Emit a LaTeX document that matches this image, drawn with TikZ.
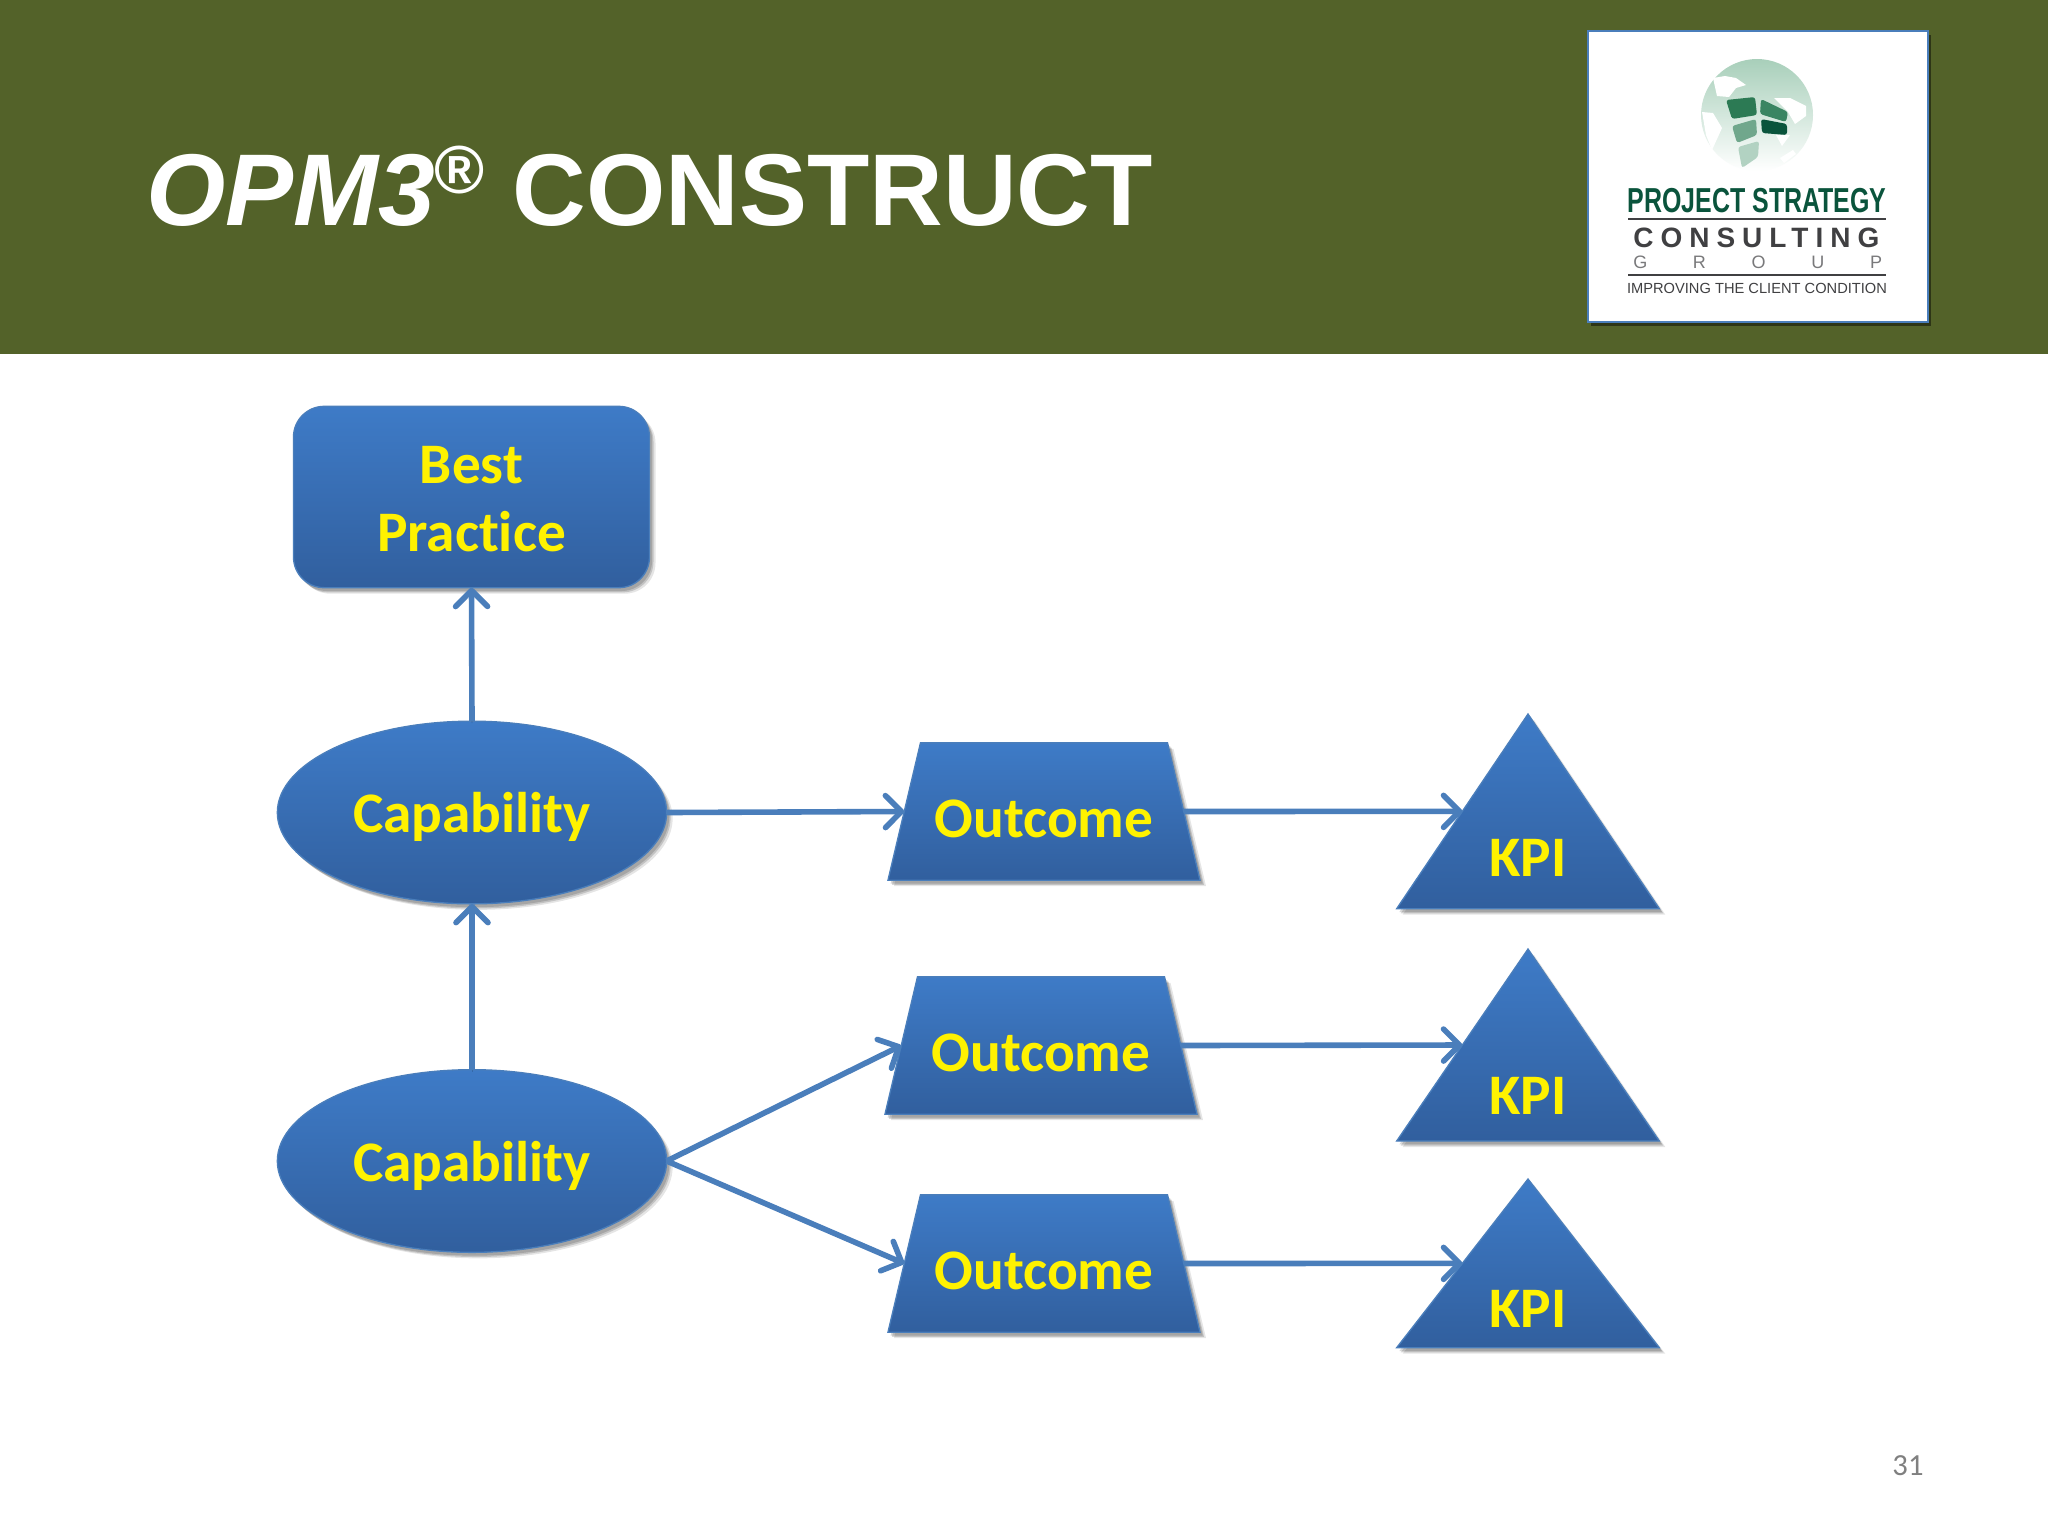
\documentclass[tikz,border=0pt]{standalone}
\usepackage{fontspec}
\setmainfont[Ligatures=NoCommon]{Carlito}
\newfontfamily\titlefont{Liberation Sans}
\newfontfamily\narrowfont[FakeStretch=.72]{Liberation Sans}
\newfontfamily\spacedfont[LetterSpace=25]{Liberation Sans}
\newfontfamily\widefont[LetterSpace=254]{Liberation Sans}
\usetikzlibrary{shapes.geometric,shadows,arrows.meta}
\definecolor{headergreen}{RGB}{83,98,41}
\definecolor{shapetop}{RGB}{62,123,199}
\definecolor{shapebottom}{RGB}{49,95,158}
\definecolor{linkblue}{RGB}{74,126,187}
\definecolor{logogreen}{RGB}{10,84,60}
\definecolor{logogrey}{RGB}{64,64,66}
\definecolor{globetop}{RGB}{168,207,186}
\definecolor{globemid}{RGB}{190,220,204}
\definecolor{tiledark}{RGB}{44,122,84}
\definecolor{tilemid}{RGB}{58,133,98}
\definecolor{tilesoft}{RGB}{112,167,140}
\definecolor{tilepale}{RGB}{178,210,194}
\tikzset{
  blueshape/.style={top color=shapetop, bottom color=shapebottom, draw=linkblue, line width=1pt, inner sep=2pt, outer sep=0pt,
    drop shadow={shadow xshift=4.5pt, shadow yshift=-4.5pt, opacity=.1, fill=black},
    drop shadow={shadow xshift=3pt, shadow yshift=-3.5pt, opacity=.15, fill=black},
    drop shadow={shadow xshift=2pt, shadow yshift=-2.5pt, opacity=.15, fill=black}},
  bestbox/.style={blueshape, rectangle, rounded corners=23pt, minimum width=267pt, minimum height=136pt},
  capability/.style={blueshape, ellipse, minimum width=292pt, minimum height=137pt},
  outcome/.style={blueshape, trapezium, trapezium stretches=true, trapezium left angle=82.5, trapezium right angle=82.5, minimum width=234pt, minimum height=103pt},
  kpi/.style={blueshape, isosceles triangle, isosceles triangle stretches=true, shape border rotate=90, anchor=apex, minimum width=197pt},
  yellowtext/.style={text=yellow, font=\fontsize{43}{51}\selectfont\bfseries, align=center, inner sep=0pt},
  link/.style={draw=linkblue, line width=4.2pt, -{Straight Barb[length=12pt,width=24pt,round]},
    preaction={draw=black, opacity=.15, transform canvas={yshift=-1.5pt}}},
  logorule/.style={draw=logogrey, line width=1pt},
  tile/.style={rounded corners=2pt}
}
\begin{document}
\begin{tikzpicture}[x=.75pt,y=-.75pt]
    \useasboundingbox (0,0) rectangle (2048,1536);
    \fill[white] (0,0) rectangle (2048,1536);
    \fill[headergreen] (0,0) rectangle (2048,354);

    \node (title) [anchor=base west, inner sep=0pt, text=white, font=\titlefont\fontsize{76.5}{90}\selectfont\bfseries] at (146,225) {\textit{OPM3}\hspace{-1pt}\raisebox{24pt}{\fontsize{51}{51}\selectfont ®} CONSTRUCT};

    \fill[white, draw=linkblue, line width=1.2pt, drop shadow={shadow xshift=2pt, shadow yshift=-3pt, opacity=.45, fill=black}] (1588,31) rectangle (1928,322);

    \shade[top color=globetop, middle color=globemid, bottom color=white] (1757,115) circle (56);
    \fill[white] (1713,78) -- (1725,76) -- (1736,78) -- (1746,85) -- (1736,88) -- (1729,97) -- (1717,96) -- cycle;
    \fill[white] (1702,112) -- (1713,113) -- (1722,128) -- (1712,150) -- (1706,135) -- cycle;
    \fill[white] (1774,98) -- (1790,98) -- (1806,106) -- (1806,116) -- (1795,124) -- (1788,112) -- cycle;
    \fill[white] (1780,158) -- (1793,150) -- (1796,154) -- (1784,163) -- cycle;
    \fill[white] (1776,135) -- (1790,135) -- (1782,146) -- cycle;
    \fill[tile, tiledark] (1726,100) -- (1755,97) -- (1757,115) -- (1732,119) -- cycle;
    \fill[tile, tilemid] (1761,99) -- (1788,112) -- (1786,122) -- (1760,114) -- cycle;
    \fill[tile, tilesoft] (1732,126) -- (1756,119) -- (1757,135) -- (1737,143) -- cycle;
    \fill[tile, logogreen] (1761,119) -- (1787,124) -- (1787,135) -- (1762,133) -- cycle;
    \fill[tile, tilepale] (1738,147) -- (1759,141) -- (1758,157) -- (1742,168) -- cycle;

    \node (psname) [anchor=base, inner sep=0pt, text=logogreen, font=\narrowfont\fontsize{26}{30}\selectfont\bfseries] at (1757,212) {PROJECT STRATEGY};
    \draw[logorule] (1628,219) -- (1886,219);
    \node (pscons) [anchor=base west, inner sep=0pt, text=logogrey, font=\spacedfont\fontsize{21}{25}\selectfont\bfseries] at (1633,247) {CONSULTING};
    \node (psgroup) [anchor=base west, inner sep=0pt, text=logogrey!70, font=\widefont\fontsize{13.5}{16}\selectfont] at (1633,268) {GROUP};
    \draw[logorule] (1628,275) -- (1886,275);
    \node (psmotto) [anchor=base, inner sep=0pt, text=logogrey, font=\titlefont\fontsize{11}{14}\selectfont] at (1757,293) {IMPROVING THE CLIENT CONDITION};

    \node (best) [bestbox] at (471.5,497) {};
    \node (cap1) [capability] at (472,812.5) {};
    \node (cap2) [capability] at (472,1161) {};

    \node (out1) [outcome] at (1044,811.5) {};
    \node (out2) [outcome] at (1041,1045.5) {};
    \node (out3) [outcome] at (1044,1263.5) {};

    \node (kpi1) [kpi, minimum height=146pt] at (1528,714) {};
    \node (kpi2) [kpi, minimum height=144pt] at (1528,949) {};
    \node (kpi3) [kpi, minimum height=126.5pt] at (1528,1179) {};

    \draw[link] (cap1.north) -- (best.south);
    \draw[link] (cap2.north) -- (cap1.south);
    \draw[link] (cap1.east) -- (out1.west);
    \draw[link] (cap2.east) -- (out2.west);
    \draw[link] (cap2.east) -- (out3.west);
    \draw[link] (out1.east) -- (kpi1.left side);
    \draw[link] (out2.east) -- (kpi2.left side);
    \draw[link] (out3.east) -- (kpi3.left side);

    \node (besttext) [yellowtext] at (471.5,499) {Best\\Practice};
    \node (captext1) [yellowtext, anchor=base] at (472,832) {Capability};
    \node (captext2) [yellowtext, anchor=base] at (472,1181) {Capability};
    \node (outtext1) [yellowtext, anchor=base] at (1044,837) {Outcome};
    \node (outtext2) [yellowtext, anchor=base] at (1041,1071) {Outcome};
    \node (outtext3) [yellowtext, anchor=base] at (1044,1289) {Outcome};
    \node (kpitext1) [yellowtext, anchor=base] at (1528,876) {KPI};
    \node (kpitext2) [yellowtext, anchor=base] at (1528,1114) {KPI};
    \node (kpitext3) [yellowtext, anchor=base] at (1528,1327) {KPI};

    \node (pagenum) [inner sep=0pt, text=black!50, font=\fontsize{23}{28}\selectfont] at (1908,1466) {31};
\end{tikzpicture}
\end{document}
